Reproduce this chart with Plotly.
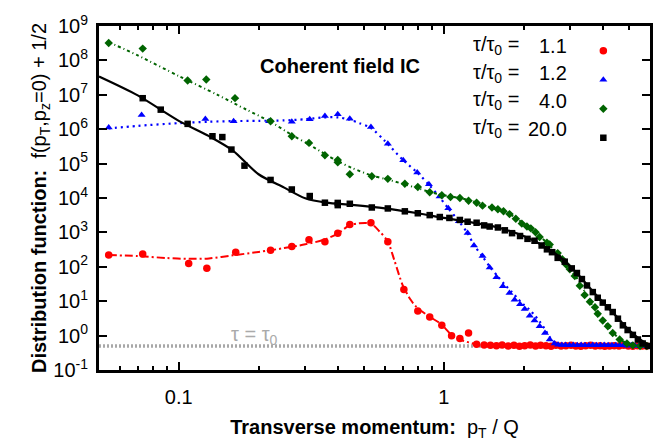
import plotly.graph_objects as go
import math

# ---------------- data ----------------
pt_red = [0.0544, 0.0731, 0.109, 0.1276, 0.164, 0.222, 0.267, 0.310, 0.356, 0.398, 0.442, 0.531, 0.615,
          0.707, 0.798, 0.885, 0.983, 1.07, 1.15, 1.24, 1.33,
          1.42, 1.50, 1.58, 1.66, 1.75, 1.84, 1.93, 2.02, 2.12, 2.22, 2.32, 2.43, 2.54, 2.65, 2.77, 2.89,
          3.02, 3.15, 3.29, 3.43, 3.58, 3.73, 3.89, 4.05, 4.22, 4.40, 4.58, 4.77, 4.97, 5.17, 5.38, 5.60, 5.83]
f_red = [220, 234, 124, 90, 266, 303, 390, 609, 536, 950, 1690, 1910, 536,
         22, 5.2, 3.5, 1.99, 0.99, 0.82, 1.19, 0.56,
         0.53, 0.52, 0.51, 0.53, 0.50, 0.52, 0.49, 0.51, 0.53, 0.50, 0.52, 0.51, 0.49, 0.52, 0.50, 0.51,
         0.52, 0.50, 0.49, 0.51, 0.52, 0.50, 0.51, 0.49, 0.50, 0.51, 0.50, 0.52, 0.50, 0.49, 0.51, 0.50, 0.50]
fit_red_x = [0.0544, 0.07, 0.09, 0.11, 0.13, 0.16, 0.2, 0.25, 0.3, 0.35, 0.4, 0.44, 0.48, 0.53, 0.57,
             0.615, 0.65, 0.70, 0.75, 0.79, 0.885, 0.97, 1.07, 1.15, 1.33, 1.6, 2.5, 4.0, 6.0]
fit_red_y = [220, 205, 180, 170, 175, 215, 270, 350, 450, 600, 950, 1600, 1850, 1800, 1100,
             540, 160, 29, 11, 6.7, 3.5, 2.26, 1.05, 0.77, 0.56, 0.5, 0.5, 0.5, 0.5]

pt_blue = [0.0544, 0.0724, 0.126, 0.161, 0.219, 0.267, 0.312, 0.356, 0.398, 0.442, 0.531, 0.615, 0.703,
           0.794, 0.879, 0.964, 1.04, 1.14, 1.23, 1.30, 1.40, 1.49, 1.58, 1.67, 1.77, 1.85, 1.94, 2.02,
           2.11, 2.20, 2.30, 2.41, 2.51, 2.62,
           2.70, 2.79, 2.88, 2.98, 3.08, 3.19, 3.30, 3.41, 3.53, 3.65, 3.77, 3.90, 4.03, 4.17, 4.31, 4.46,
           4.61, 4.77, 4.93, 5.10, 5.27, 5.45, 5.64, 5.83]
f_blue = [1.12e6, 2.6e6, 1.99e6, 1.71e6, 1.71e6, 1.65e6, 1.96e6, 2.42e6, 2.7e6, 2.0e6, 1.16e6, 3.8e5, 1.25e5,
          5.5e4, 2.5e4, 1.1e4, 5.0e3, 2.1e3, 960, 414, 207, 95, 50, 27, 17.3, 11.1, 8.1, 5.9,
          3.76, 2.73, 1.87, 1.19, 0.77, 0.59,
          0.54, 0.53, 0.53, 0.52, 0.53, 0.52, 0.53, 0.52, 0.52, 0.53, 0.52, 0.52, 0.53, 0.52, 0.52, 0.52,
          0.52, 0.52, 0.51, 0.52, 0.51, 0.51, 0.51, 0.50]
fit_blue_x = [0.0544, 0.07, 0.1, 0.13, 0.16, 0.2, 0.25, 0.3, 0.35, 0.4, 0.44, 0.48, 0.53, 0.6, 0.7, 0.8,
              0.88, 0.96, 1.04, 1.14, 1.23, 1.3, 1.4, 1.5, 1.6, 1.7, 1.8, 1.9, 2.0, 2.1, 2.2, 2.3, 2.4,
              2.5, 2.6, 2.75, 3.0, 4.5, 6.0]
fit_blue_y = [1.05e6, 1.25e6, 1.5e6, 1.65e6, 1.72e6, 1.75e6, 1.8e6, 1.95e6, 2.2e6, 2.2e6, 1.9e6, 1.5e6,
              1.1e6, 4.5e5, 1.3e5, 5.2e4, 2.4e4, 1.1e4, 5e3, 2.1e3, 950, 430, 200, 95, 52, 30, 19, 12, 8,
              5.8, 3.9, 2.6, 1.6, 0.95, 0.65, 0.53, 0.52, 0.52, 0.51]

pt_green = [0.0544, 0.0731, 0.108, 0.127, 0.163, 0.222, 0.267, 0.310, 0.356, 0.398, 0.398, 0.442, 0.535,
            0.615, 0.713, 0.798, 0.885, 0.983, 1.06, 1.15, 1.24, 1.33, 1.40, 1.52, 1.60, 1.68, 1.77,
            1.87, 1.97, 2.06, 2.13, 2.22, 2.30, 2.45, 2.51, 2.69, 2.80, 2.90, 2.99, 3.12, 3.26, 3.40,
            3.56, 3.72, 3.81, 3.98, 4.16, 4.34, 4.61, 4.91, 5.17, 5.50, 5.84]
f_green = [3.2e8, 2.2e8, 2.6e7, 2.8e7, 8e6, 1.7e6, 6.2e5, 4.0e5, 1.75e5, 1.27e5, 1.1e5, 4.9e4, 4.3e4,
           3.6e4, 2.6e4, 2.1e4, 1.47e4, 1.21e4, 1.07e4, 1.0e4, 8.3e3, 7.3e3, 6.0e3, 5.3e3, 4.7e3, 4.1e3,
           3.4e3, 2.5e3, 1.8e3, 1.48e3, 1.31e3, 1.01e3, 737, 503, 443, 250, 165, 115, 85, 54, 28, 15.2,
           9.7, 6.7, 4.3, 2.73, 1.87, 1.19, 0.77, 0.59, 0.52, 0.50, 0.50]
fit_green_x = [0.0544, 0.07, 0.1, 0.14, 0.18, 0.22, 0.27, 0.31, 0.36, 0.4, 0.45, 0.53, 0.61, 0.71, 0.8,
               0.9, 1.0, 1.15, 1.3, 1.45, 1.6, 1.8, 2.0, 2.2, 2.45, 2.7, 3.0, 3.26, 3.56, 3.8, 4.16,
               4.6, 5.0, 5.5, 6.0]
fit_green_y = [3.4e8, 1.4e8, 3.5e7, 1e7, 3.7e6, 1.7e6, 6.5e5, 3.6e5, 1.8e5, 1.15e5, 7.5e4, 4.6e4, 3.5e4,
               2.5e4, 1.9e4, 1.45e4, 1.2e4, 1.0e4, 7.8e3, 5.8e3, 4.6e3, 3.2e3, 1.8e3, 1.05e3, 500, 240,
               85, 35, 10, 4.5, 1.9, 0.8, 0.57, 0.5, 0.5]

pt_black = [0.0731, 0.0855, 0.108, 0.134, 0.146, 0.158, 0.177, 0.222, 0.267, 0.312, 0.356, 0.398, 0.398,
            0.442, 0.535, 0.615, 0.713, 0.798, 0.885, 0.966, 1.05, 1.15, 1.23, 1.33, 1.42, 1.49, 1.60,
            1.70, 1.81, 1.94, 2.07, 2.20, 2.34, 2.45, 2.56, 2.69, 2.86, 3.04, 3.18, 3.32, 3.47, 3.65,
            3.81, 3.98, 4.16, 4.34, 4.54, 4.74, 4.94, 5.17, 5.40, 5.63, 5.89]
f_black = [7.96e6, 3.7e6, 1.43e6, 6.25e5, 5.9e5, 2.56e5, 8.7e4, 3.35e4, 1.77e4, 1.14e4, 7.3e3, 7.2e3, 6.2e3,
           6.8e3, 5.3e3, 4.97e3, 4.1e3, 3.6e3, 3.18e3, 2.8e3, 2.63e3, 2.3e3, 2.04e3, 1.91e3, 1.6e3, 1.48e3,
           1.39e3, 1.15e3, 950, 785, 650, 571, 416, 322, 266, 182, 141, 90, 66, 44, 28.7, 18.4,
           12.6, 9.1, 6.65, 4.84, 3.10, 1.99, 1.45, 1.05, 0.77, 0.59, 0.50]
fit_black_x = [0.05, 0.07, 0.1, 0.13, 0.16, 0.2, 0.25, 0.3, 0.36, 0.45, 0.6, 0.8, 1.0, 1.3, 1.6, 2.0, 2.4,
               2.8, 3.2, 3.6, 4.0, 4.5, 5.0, 5.5, 6.0]
fit_black_y = [3.4e7, 9.6e6, 1.75e6, 6.3e5, 2.4e5, 4.9e4, 2.0e4, 9.8e3, 7.3e3, 6.3e3, 5.0e3, 3.6e3, 2.63e3,
               1.9e3, 1.39e3, 785, 390, 170, 62, 22, 9.1, 3.5, 1.45, 0.77, 0.5]

tau0_x = [0.05, 6.0]
tau0_y = [0.5, 0.5]

legend_values = ["1.1", "1.2", "4.0", "20.0"]
x_ticks = [0.1, 1]
x_ticktext = ["0.1", "1"]
x_minor = [0.06, 0.07, 0.08, 0.09, 0.2, 0.3, 0.4, 0.5, 0.6, 0.7, 0.8, 0.9, 2, 3, 4, 5]
y_exps = list(range(-1, 10))

# ---------------- figure ----------------
FONT = "Liberation Sans, Arial, sans-serif"
RED, BLUE, GREEN, BLACK = "#ff0000", "#0000ff", "#006400", "#000000"

fig = go.Figure()
fig.add_trace(go.Scatter(x=tau0_x, y=tau0_y, mode="lines", showlegend=False, hoverinfo="skip",
                         line=dict(color="#a8a8a8", width=3.5, dash="2px,2px")))

series = [
    (fit_red_x, fit_red_y, pt_red, f_red, RED, "circle", 7.5, "8px,3px,2px,3px", 2),
    (fit_blue_x, fit_blue_y, pt_blue, f_blue, BLUE, "triangle-up", 7, "2px,4px", 2.2),
    (fit_green_x, fit_green_y, pt_green, f_green, GREEN, "diamond", 6.5, "3px,3px,1px,3px", 2),
    (fit_black_x, fit_black_y, pt_black, f_black, BLACK, "square", 6.5, None, 2.2),
]
for fx, fy, px, py, col, sym, sz, dash, lw in series:
    line = dict(color=col, width=lw, shape="spline", smoothing=0.8)
    if dash:
        line["dash"] = dash
    fig.add_trace(go.Scatter(x=fx, y=fy, mode="lines", line=line, showlegend=False, hoverinfo="skip"))
    fig.add_trace(go.Scatter(x=px, y=py, mode="markers", name=" ",
                             marker=dict(color=col, symbol=sym, size=sz, line=dict(width=0))))

axis_common = dict(showline=True, linewidth=3, linecolor="black", mirror="allticks",
                   ticks="inside", ticklen=8, tickwidth=1.5, tickcolor="black",
                   showgrid=False, zeroline=False,
                   tickfont=dict(family=FONT, size=20, color="black"))

fig.update_xaxes(type="log", range=[math.log10(0.05), math.log10(6.0)],
                 tickmode="array", tickvals=x_ticks, ticktext=x_ticktext,
                 minor=dict(tickmode="array", tickvals=x_minor, ticks="inside", ticklen=4,
                            tickwidth=1.5, tickcolor="black", showgrid=False),
                 ticklabelstandoff=7,
                 title=dict(text="<b>Transverse momentum:</b>  p<sub>T</sub> / Q",
                            font=dict(family=FONT, size=20, color="black"), standoff=13),
                 **axis_common)
fig.update_yaxes(type="log", range=[-1, 9],
                 tickmode="array", tickvals=[10.0 ** e for e in y_exps],
                 ticktext=["10<sup>%d</sup>" % e for e in y_exps],
                 ticklabelstandoff=4,
                 title=dict(text="<b>Distribution function:</b>  f(p<sub>T</sub>,p<sub>z</sub>=0) + 1/2",
                            font=dict(family=FONT, size=20, color="black"), standoff=1),
                 **axis_common)

# legend text (markers come from the legend itself)
row_y = [0.942, 0.862, 0.782, 0.702]
for v, yy in zip(legend_values, row_y):
    fig.add_annotation(x=0.676, y=yy, xref="paper", yref="paper", xanchor="left", yanchor="middle",
                       text="τ/τ<sub>0</sub> =", showarrow=False,
                       font=dict(family=FONT, size=20, color="black"))
    fig.add_annotation(x=0.853, y=yy, xref="paper", yref="paper", xanchor="right", yanchor="middle",
                       text=v, showarrow=False, font=dict(family=FONT, size=20, color="black"))

fig.add_annotation(x=0.437, y=0.884, xref="paper", yref="paper", xanchor="center", yanchor="middle",
                   text="<b>Coherent field IC</b>", showarrow=False,
                   font=dict(family=FONT, size=20, color="black"))
fig.add_annotation(x=0.283, y=0.10, xref="paper", yref="paper", xanchor="center", yanchor="middle",
                   text="τ = τ<sub>0</sub>", showarrow=False,
                   font=dict(family=FONT, size=20, color="#aaaaaa"))

fig.update_layout(
    width=672, height=447,
    margin=dict(l=99, r=22, t=17, b=68),
    paper_bgcolor="white", plot_bgcolor="white",
    font=dict(family=FONT, color="black"),
    showlegend=True,
    legend=dict(x=0.879, y=0.985, xanchor="left", yanchor="top", bgcolor="rgba(0,0,0,0)",
                borderwidth=0, font=dict(family=FONT, size=20), itemwidth=30, tracegroupgap=0),
)

fig.write_html("out.html")
